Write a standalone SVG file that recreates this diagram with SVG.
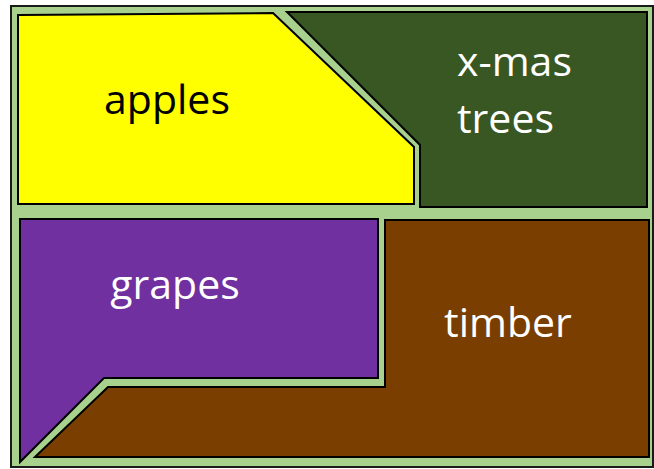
<svg xmlns="http://www.w3.org/2000/svg" width="654" height="469" viewBox="0 0 654 469">
<style>
.region{stroke:#000;stroke-width:2;stroke-linejoin:miter}
.lbl{font-family:"Open Sans","Liberation Sans",sans-serif;font-size:41px}
</style>
<rect x="0" y="0" width="654" height="469" fill="#fff"/>
<g id="field">
<rect x="11" y="6" width="642" height="461" fill="#a9d18e" stroke="#1a1a1a" stroke-width="2"/>
</g>
<g id="apples">
<polygon class="region" fill="#ffff00" points="18,15 273,13 414,147 414,204 18,204"/>
<text class="lbl" x="167" y="114" text-anchor="middle" fill="#000">apples</text>
</g>
<g id="xmas-trees">
<polygon class="region" fill="#385723" points="287,12 647,12 647,207 420,207 420,145"/>
<text class="lbl" fill="#fff"><tspan x="457" y="76">x-mas</tspan><tspan x="457" y="133">trees</tspan></text>
</g>
<g id="grapes">
<polygon class="region" fill="#7030a0" points="20,219 378,219 378,378 104,378 20,462"/>
<text class="lbl" x="175" y="299" text-anchor="middle" fill="#fff">grapes</text>
</g>
<g id="timber">
<polygon class="region" fill="#7a3e00" points="385,220 649,220 649,457 35,457 108,387 385,387"/>
<text class="lbl" x="508" y="337" text-anchor="middle" fill="#fff">timber</text>
</g>
</svg>
